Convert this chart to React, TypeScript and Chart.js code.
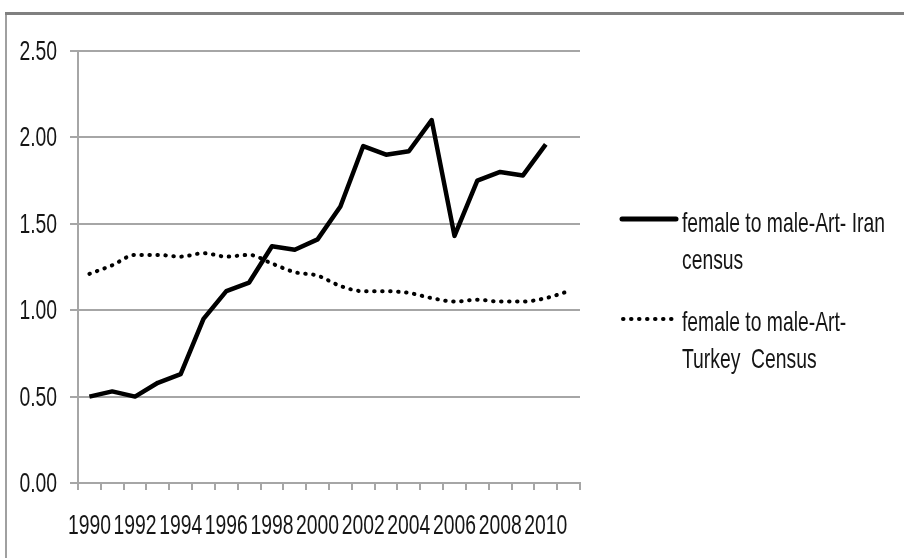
import React, { useEffect, useRef } from 'react';
import { Chart, registerables } from 'chart.js';

Chart.register(...registerables);

const years = ['1990','1991','1992','1993','1994','1995','1996','1997','1998','1999','2000','2001','2002','2003','2004','2005','2006','2007','2008','2009','2010','2011'];
const iranRatio = [0.50,0.53,0.50,0.58,0.63,0.95,1.11,1.16,1.37,1.35,1.41,1.60,1.95,1.90,1.92,2.10,1.43,1.75,1.80,1.78,1.96,null];
const turkeyRatio = [1.21,1.26,1.32,1.32,1.31,1.33,1.31,1.32,1.27,1.22,1.20,1.14,1.11,1.11,1.10,1.07,1.05,1.06,1.05,1.05,1.07,1.11];
const iranLabel = ['female to male-Art- Iran', 'census'];
const turkeyLabel = ['female to male-Art-', 'Turkey  Census'];

const FONT = "'Liberation Sans', Arial, sans-serif";
const SX = 0.69;

function drawText(ctx: CanvasRenderingContext2D, text: string, x: number, y: number, align: CanvasTextAlign) {
  ctx.save();
  ctx.translate(x, y);
  ctx.scale(SX, 1);
  ctx.textAlign = align;
  ctx.fillText(text, 0, 0);
  ctx.restore();
}

export default function App() {
  const ref = useRef<HTMLCanvasElement>(null);
  useEffect(() => {
    document.body.style.margin = '0';
    const framePlugin = {
      id: 'frame',
      beforeDraw(chart: any) {
        const { ctx } = chart;
        ctx.save();
        ctx.fillStyle = '#ffffff';
        ctx.fillRect(0, 0, chart.width, chart.height);
        ctx.fillStyle = '#a0a0a0';
        ctx.fillRect(5, 13, 2, 545);
        ctx.fillStyle = '#808080';
        ctx.fillRect(5, 12, 899, 3);
        ctx.restore();
      },
    };
    const textPlugin = {
      id: 'narrowText',
      afterDraw(chart: any) {
        const { ctx } = chart;
        const xs = chart.scales.x;
        const ys = chart.scales.y;
        ctx.save();
        ctx.fillStyle = '#151515';
        ctx.font = `28px ${FONT}`;
        ctx.textBaseline = 'alphabetic';
        ys.ticks.forEach((t: any) => {
          drawText(ctx, Number(t.value).toFixed(2), 57, ys.getPixelForValue(t.value) + 9, 'right');
        });
        years.forEach((yr, i) => {
          if (i % 2 === 0) drawText(ctx, yr, xs.getPixelForValue(i), 534, 'center');
        });
        // legend
        ctx.strokeStyle = '#000';
        ctx.lineCap = 'round';
        ctx.lineWidth = 5;
        ctx.beginPath();
        ctx.moveTo(622, 219);
        ctx.lineTo(676, 219);
        ctx.stroke();
        ctx.lineWidth = 4;
        ctx.setLineDash([0.5, 7.5]);
        ctx.beginPath();
        ctx.moveTo(623, 319);
        ctx.lineTo(677, 319);
        ctx.stroke();
        ctx.setLineDash([]);
        drawText(ctx, iranLabel[0], 682, 232, 'left');
        drawText(ctx, iranLabel[1], 682, 269, 'left');
        drawText(ctx, turkeyLabel[0], 682, 331, 'left');
        drawText(ctx, turkeyLabel[1], 682, 368, 'left');
        ctx.restore();
      },
    };
    const chart = new Chart(ref.current as HTMLCanvasElement, {
      type: 'line',
      data: {
        labels: years,
        datasets: [
          {
            label: iranLabel.join(' '),
            data: iranRatio,
            borderColor: '#000',
            borderWidth: 4.5,
            pointRadius: 0,
            tension: 0,
            borderJoinStyle: 'round',
            spanGaps: false,
          },
          {
            label: turkeyLabel.join(' '),
            data: turkeyRatio,
            borderColor: '#000',
            borderWidth: 4,
            borderDash: [0.5, 7.5],
            borderCapStyle: 'round',
            pointRadius: 0,
            cubicInterpolationMode: 'monotone',
          },
        ],
      },
      options: {
        responsive: false,
        animation: false,
        layout: { padding: { top: 51, right: 324, bottom: 0, left: 0 } },
        plugins: { legend: { display: false }, tooltip: { enabled: false } },
        scales: {
          x: {
            offset: true,
            afterFit(s: any) { s.height = 75; },
            grid: { offset: true, drawOnChartArea: false, drawTicks: true, tickLength: 7, color: '#a6a6a6', lineWidth: 2 },
            border: { display: true, color: '#a6a6a6', width: 2 },
            ticks: { display: false, autoSkip: false, maxRotation: 0, minRotation: 0 },
          },
          y: {
            min: 0,
            max: 2.5,
            afterFit(s: any) { s.width = 78; },
            grid: { color: '#a6a6a6', lineWidth: 2, tickLength: 8, drawTicks: true },
            border: { display: true, color: '#a6a6a6', width: 2 },
            ticks: { display: false, stepSize: 0.5 },
          },
        },
      },
      plugins: [framePlugin, textPlugin],
    } as any);
    return () => chart.destroy();
  }, []);
  return <canvas ref={ref} width={904} height={558} style={{ display: 'block', width: 904, height: 558 }} />;
}
